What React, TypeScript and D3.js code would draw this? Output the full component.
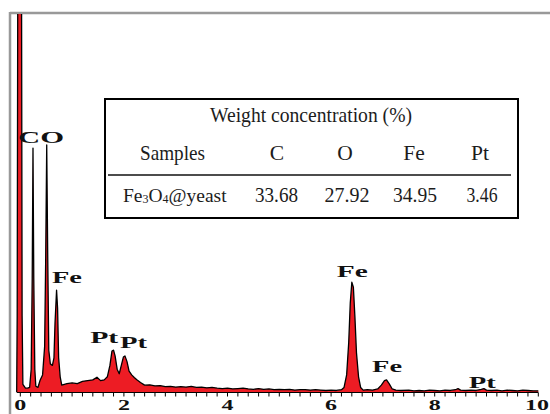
import React from "react";
import * as d3 from "d3";

// Spectrum (energy in keV, counts)
const spectrumKeV = [
  -0.07, -0.06, -0.045, 0.02, 0.035, 0.05, 0.1, 0.14, 0.18, 0.21, 0.23, 0.245, 0.26, 0.28, 0.3,
  0.34, 0.38, 0.43, 0.47, 0.49, 0.51, 0.53, 0.55, 0.58, 0.62, 0.65, 0.67, 0.7, 0.72, 0.74, 0.77,
  0.8, 0.85, 0.9, 1.0, 1.1, 1.2, 1.3, 1.4, 1.48, 1.55, 1.62, 1.68, 1.73, 1.77, 1.8, 1.83, 1.87,
  1.91, 1.95, 1.99, 2.02, 2.06, 2.1, 2.15, 2.2, 2.25, 2.32, 2.4, 2.5, 2.6, 2.7, 2.8, 2.9, 3.0,
  3.1, 3.2, 3.3, 3.4, 3.5, 3.6, 3.7, 3.8, 3.9, 4.0, 4.1, 4.2, 4.3, 4.4, 4.5, 4.6, 4.7, 4.8, 4.9,
  5.0, 5.1, 5.2, 5.3, 5.4, 5.5, 5.6, 5.7, 5.8, 5.9, 6.0, 6.1, 6.2, 6.25, 6.3, 6.34, 6.37, 6.4,
  6.43, 6.46, 6.49, 6.53, 6.57, 6.62, 6.7, 6.8, 6.9, 6.97, 7.03, 7.07, 7.12, 7.18, 7.25, 7.35,
  7.5, 7.6, 7.7, 7.8, 7.9, 8.0, 8.1, 8.2, 8.3, 8.4, 8.45, 8.5, 8.6, 8.7, 8.8, 8.9, 8.95, 9.0,
  9.1, 9.2, 9.3, 9.4, 9.5, 9.6, 9.7, 9.8, 9.9, 10.0,
];
const spectrumCounts = [
  0, 200, 1400, 1400, 200, 20, 10, 10, 12, 60, 300, 642, 300, 60, 15,
  12, 30, 45, 120, 350, 650, 350, 110, 74, 70, 90, 180, 268, 220, 90, 40,
  18, 20, 22, 24, 22, 28, 30, 32, 39, 30, 32, 40, 70, 108, 110, 95, 60,
  48, 70, 92, 95, 80, 55, 45, 38, 32, 25, 18, 19, 16, 17, 14, 15, 13,
  14, 13, 15, 12, 13, 11, 12, 10, 9, 10, 8, 9, 10, 8, 7, 9, 7, 8, 6,
  7, 6, 7, 5, 6, 6, 5, 6, 5, 4, 5, 4, 6, 12, 45, 130, 234, 289,
  276, 197, 103, 40, 12, 5, 6, 5, 8, 18, 30, 32, 22, 8, 5, 4,
  5, 3, 4, 3, 5, 4, 3, 5, 4, 6, 9, 5, 4, 5, 4, 7, 9, 5,
  4, 5, 3, 5, 4, 3, 5, 4, 3, 3,
];

// Axis ticks
const tickValues = [0, 2, 4, 6, 8, 10];
const tickLabels = ["0", "2", "4", "6", "8", "10"];

// Peak annotations
const peakLabels = ["CO", "Fe", "Pt", "Pt", "Fe", "Fe", "Pt"];
const peakLabelKeV = [0.40, 0.90, 1.62, 2.185, 6.41, 7.08, 8.92];
const peakLabelCounts = [655, 287, 129, 116, 303, 53, 11];
const peakLabelWidths = [46, 30, 28, 27, 31, 30, 27];

// Table
const tableTitle = "Weight concentration (%)";
const tableElements = ["C", "O", "Fe", "Pt"];
const tableValues = ["33.68", "27.92", "34.95", "3.46"];

export default function App() {
  const W = 550, H = 414;
  const x = d3.scaleLinear().domain([0, 10]).range([20.3, 538.3]);
  const y = d3.scaleLinear().domain([0, 1000]).range([392, 12]);
  const pts: [number, number][] = spectrumKeV.map((k, i) => [k, spectrumCounts[i]]);
  const area = d3.area<[number, number]>().x(d => x(d[0])).y0(y(0)).y1(d => y(d[1]));
  const line = d3.line<[number, number]>().x(d => x(d[0])).y(d => y(d[1]));
  const minor = d3.range(0, 10.001, 0.2);

  const elemX = [277, 345, 414, 480];
  const valX = [276.5, 347, 415, 482];
  const valW = [43, 45, 44, 31];
  const textColor = "#1c1c1c";

  return (
    <svg width={W} height={H} style={{ position: "absolute", left: 0, top: 0, background: "#fff" }}>
      <defs>
        <clipPath id="plotClip">
          <rect x={11} y={14} width={W} height={H} />
        </clipPath>
      </defs>
      <rect x={0} y={0} width={W} height={H} fill="#fff" />
      {/* frame */}
      <line x1={10} y1={13} x2={W} y2={13} stroke="#999" strokeWidth={2.5} />
      <line x1={10} y1={12} x2={10} y2={H} stroke="#999" strokeWidth={2.5} />

      <g clipPath="url(#plotClip)">
        <path d={area(pts) || ""} fill="#ed1c24" />
        <path d={line(pts) || ""} fill="none" stroke="#000" strokeWidth={1.3} strokeLinejoin="round" />
      </g>

      {/* x axis */}
      <line x1={x(-0.07)} x2={x(10)} y1={392.5} y2={392.5} stroke="#000" strokeWidth={1} />
      {minor.map((v, i) => (
        <line key={i} x1={x(v)} x2={x(v)} y1={392.5} y2={396.5} stroke="#000" strokeWidth={1} />
      ))}
      {tickValues.map((v, i) => (
        <text
          key={i}
          x={Math.min(x(v), W - tickLabels[i].length * 6.5)}
          y={410}
          textAnchor="middle"
          fontFamily="'Liberation Serif', serif"
          fontWeight="bold"
          fontSize={15}
          textLength={tickLabels[i].length * 12}
          lengthAdjust="spacingAndGlyphs"
          fill="#111"
        >
          {tickLabels[i]}
        </text>
      ))}

      {/* peak labels */}
      {peakLabels.map((t, i) => (
        <text
          key={i}
          x={x(peakLabelKeV[i]) - peakLabelWidths[i] / 2}
          y={y(peakLabelCounts[i])}
          fontFamily="'Liberation Serif', serif"
          fontWeight="bold"
          fontSize={16.5}
          textLength={peakLabelWidths[i]}
          lengthAdjust="spacingAndGlyphs"
          fill="#111"
        >
          {t}
        </text>
      ))}

      {/* table */}
      <rect x={105} y={99} width={413} height={119} fill="#fff" stroke="#000" strokeWidth={2} />
      <line x1={108} x2={511} y1={175} y2={175} stroke="#111" strokeWidth={1.5} />
      <g fontFamily="'Liberation Serif', 'Times New Roman', serif" fontSize={21.5} fill={textColor}>
        <text x={311} y={122} textAnchor="middle" textLength={202} lengthAdjust="spacingAndGlyphs">
          {tableTitle}
        </text>
        <text x={172.5} y={160} textAnchor="middle" textLength={65} lengthAdjust="spacingAndGlyphs">
          Samples
        </text>
        {tableElements.map((e, i) => (
          <text key={i} x={elemX[i]} y={160} textAnchor="middle">
            {e}
          </text>
        ))}
        <text x={123} y={202} fontSize={19.5}>
          Fe<tspan fontSize={12} dy={1}>3</tspan>
          <tspan dy={-1}>O</tspan>
          <tspan fontSize={12} dy={1}>4</tspan>
          <tspan dy={-1}>@yeast</tspan>
        </text>
        {tableValues.map((v, i) => (
          <text key={i} x={valX[i]} y={202} textAnchor="middle" textLength={valW[i]} lengthAdjust="spacingAndGlyphs">
            {v}
          </text>
        ))}
      </g>
    </svg>
  );
}
